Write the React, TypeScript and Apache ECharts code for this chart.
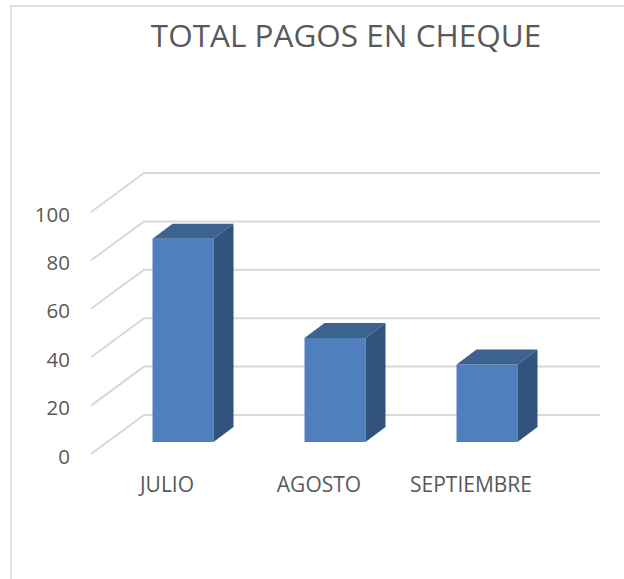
import React, { useEffect, useRef } from "react";
import * as echarts from "echarts";

const categories = ["JULIO", "AGOSTO", "SEPTIEMBRE"];
const values = [84, 43, 32];
const yTicks = [0, 20, 40, 60, 80, 100];
const titleText = "TOTAL PAGOS EN CHEQUE";

const FONT = "'Open Sans', 'Noto Sans', sans-serif";
const TEXT = "#595959";
const GRID = "#d9d9d9";
const WALL_DX = 53;
const WALL_DY = 39;
const BAR_OFF_DX = 16;
const BAR_OFF_DY = 12;
const BAR_DX = 20;
const BAR_DY = 15;
const BAR_W = 61;

export default function App() {
  const ref = useRef<HTMLDivElement>(null);
  useEffect(() => {
    const chart = echarts.init(ref.current!, undefined, { renderer: "svg" });
    chart.setOption({
      animation: false,
      backgroundColor: "#ffffff",
      title: {
        text: titleText,
        left: 346,
        top: 34,
        textAlign: "center",
        textVerticalAlign: "middle",
        padding: 0,
        textStyle: { fontFamily: FONT, fontSize: 31.5, fontWeight: "normal", color: TEXT },
      },
      grid: { left: 91, width: 456, top: 212, height: 242, containLabel: false },
      xAxis: {
        type: "category",
        data: categories,
        axisLine: { show: false },
        axisTick: { show: false },
        splitLine: { show: false },
        axisLabel: { color: TEXT, fontFamily: FONT, fontSize: 21, margin: 19, interval: 0 },
      },
      yAxis: {
        type: "value",
        min: 0,
        max: 100,
        interval: 20,
        axisLine: { show: false },
        axisTick: { show: false },
        splitLine: { show: false },
        axisLabel: { color: TEXT, fontFamily: FONT, fontSize: 20.5, margin: 21, verticalAlign: "top", lineHeight: 3 },
      },
      graphic: [
        {
          type: "polyline",
          silent: true,
          shape: { points: [[11, 579], [11, 6], [624, 6]] },
          style: { stroke: "#e2e2e2", lineWidth: 2, fill: "none" },
        },
      ],
      series: [
        {
          type: "custom",
          silent: true,
          z: 1,
          data: yTicks.map((t) => [0, t]),
          renderItem: (_p: any, api: any) => {
            const c = api.coord([0, api.value(1)]);
            const band = api.size([1, 0])[0];
            const x0 = c[0] - band / 2;
            const y0 = c[1];
            return {
              type: "polyline",
              shape: {
                points: [
                  [x0, y0],
                  [x0 + WALL_DX, y0 - WALL_DY],
                  [x0 + WALL_DX + band * categories.length, y0 - WALL_DY],
                ],
              },
              style: { stroke: GRID, lineWidth: 2, fill: "none" },
            };
          },
        },
        {
          type: "custom",
          silent: true,
          z: 2,
          data: values.map((v, i) => [i, v]),
          renderItem: (_p: any, api: any) => {
            const top = api.coord([api.value(0), api.value(1)]);
            const base = api.coord([api.value(0), 0]);
            const l = top[0] + BAR_OFF_DX - BAR_W / 2;
            const r = l + BAR_W;
            const t = top[1] - BAR_OFF_DY;
            const b = base[1] - BAR_OFF_DY;
            return {
              type: "group",
              children: [
                {
                  type: "rect",
                  shape: { x: l, y: t, width: BAR_W, height: b - t },
                  style: { fill: "#4f80bd" },
                },
                {
                  type: "polygon",
                  shape: { points: [[l, t], [l + BAR_DX, t - BAR_DY], [r + BAR_DX, t - BAR_DY], [r, t]] },
                  style: { fill: "#3c6390" },
                },
                {
                  type: "polygon",
                  shape: { points: [[r, t], [r + BAR_DX, t - BAR_DY], [r + BAR_DX, b - BAR_DY], [r, b]] },
                  style: { fill: "#32537c" },
                },
              ],
            };
          },
        },
      ],
    });
    return () => chart.dispose();
  }, []);
  return <div ref={ref} style={{ position: "absolute", left: 0, top: 0, width: 624, height: 579 }} />;
}
